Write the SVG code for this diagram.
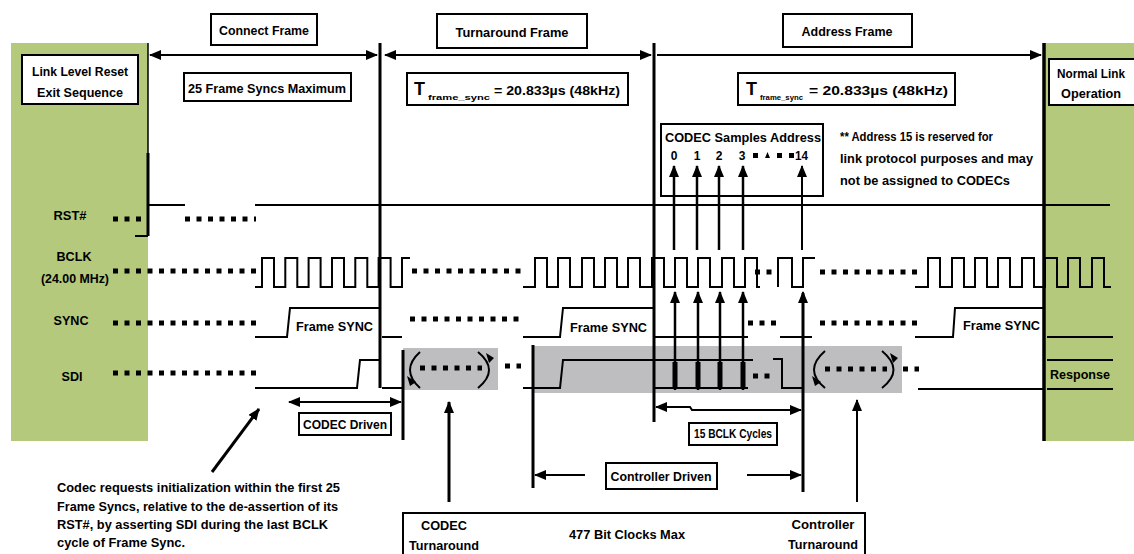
<svg xmlns="http://www.w3.org/2000/svg" width="1134" height="554" viewBox="0 0 1134 554">
<style>
.sig{fill:none;stroke:#000;stroke-width:2}
.thick{fill:none;stroke:#000;stroke-width:3}
.dots{fill:none;stroke:#000;stroke-width:5;stroke-dasharray:5 6.5}
.box{fill:#fff;stroke:#000;stroke-width:2}
.t{font-family:"Liberation Sans",Arial,sans-serif;font-weight:bold;font-size:12px;fill:#000}
.m{text-anchor:middle}
.green{fill:#b4c97b}
.grey{fill:#bebdc0}
.arr{fill:none;stroke:#000;stroke-width:2}
.arr3{fill:none;stroke:#000;stroke-width:2.5}
</style>
<defs>
<marker id="ah" viewBox="0 0 12 10" refX="11" refY="5" markerWidth="12" markerHeight="10" markerUnits="userSpaceOnUse" orient="auto-start-reverse">
<path d="M0,0 L12,5 L0,10 z" fill="#000"/>
</marker>
</defs>
<rect width="1134" height="554" fill="#fff"/>

<g id="link-level-reset">
<rect class="green" x="11" y="43" width="137" height="398"/>
<line x1="148" y1="43" x2="148" y2="236" stroke="#000" stroke-width="1.5"/>
<rect class="box" x="22" y="55" width="116" height="49"/>
<text class="t m" x="80" y="76" textLength="96" lengthAdjust="spacingAndGlyphs">Link Level Reset</text>
<text class="t m" x="80" y="97" textLength="86" lengthAdjust="spacingAndGlyphs">Exit Sequence</text>
<text class="t m" x="70" y="220" textLength="33" lengthAdjust="spacingAndGlyphs">RST#</text>
<text class="t m" x="74" y="261" textLength="35" lengthAdjust="spacingAndGlyphs">BCLK</text>
<text class="t m" x="75" y="283" textLength="68" lengthAdjust="spacingAndGlyphs">(24.00 MHz)</text>
<text class="t m" x="71" y="325" textLength="35" lengthAdjust="spacingAndGlyphs">SYNC</text>
<text class="t m" x="72" y="381" textLength="21" lengthAdjust="spacingAndGlyphs">SDI</text>
</g>

<g id="normal-link">
<rect class="green" x="1043" y="43" width="91" height="398"/>
<line x1="1044" y1="43" x2="1044" y2="441" stroke="#000" stroke-width="3.5"/>
<rect class="box" x="1049" y="59" width="90" height="46"/>
<text class="t m" x="1091" y="78" textLength="68" lengthAdjust="spacingAndGlyphs">Normal Link</text>
<text class="t m" x="1091" y="98" textLength="60" lengthAdjust="spacingAndGlyphs">Operation</text>
</g>

<g id="shading">
<rect class="grey" x="403" y="348" width="95" height="42"/>
<rect class="grey" x="533" y="346" width="369" height="47"/>
</g>

<g id="frame-labels">
<g id="connect-frame"><rect class="box" x="211" y="14" width="106" height="31"/>
<text class="t m" x="264" y="35" textLength="90" lengthAdjust="spacingAndGlyphs">Connect Frame</text></g>
<g id="syncs-max"><rect class="box" x="184" y="73" width="167" height="28"/>
<text class="t m" x="267" y="93" textLength="158" lengthAdjust="spacingAndGlyphs">25 Frame Syncs Maximum</text></g>
<g id="turnaround-frame"><rect class="box" x="437" y="14" width="150" height="34"/>
<text class="t m" x="512" y="37" textLength="113" lengthAdjust="spacingAndGlyphs">Turnaround Frame</text></g>
<g id="tsync-1"><rect class="box" x="407" y="73" width="221" height="32"/>
<text class="t" font-size="16"><tspan x="414" y="95" font-size="18">T</tspan><tspan x="428" y="100" font-size="8" textLength="62" lengthAdjust="spacingAndGlyphs">frame_sync</tspan><tspan x="494" y="95" textLength="126" lengthAdjust="spacingAndGlyphs">= 20.833µs (48kHz)</tspan></text></g>
<g id="address-frame"><rect class="box" x="783" y="14" width="129" height="33"/>
<text class="t m" x="847" y="36" textLength="91" lengthAdjust="spacingAndGlyphs">Address Frame</text></g>
<g id="tsync-2"><rect class="box" x="738" y="73" width="217" height="32"/>
<text class="t" font-size="16"><tspan x="746" y="95" font-size="18">T</tspan><tspan x="760" y="100" font-size="8" textLength="43" lengthAdjust="spacingAndGlyphs">frame_sync</tspan><tspan x="809" y="95" textLength="139" lengthAdjust="spacingAndGlyphs">= 20.833µs (48kHz)</tspan></text></g>
</g>

<g id="codec-samples-address">
<rect class="box" x="661" y="124" width="162" height="72"/>
<text class="t" x="665" y="142" textLength="156" lengthAdjust="spacingAndGlyphs">CODEC Samples Address</text>
<text class="t m" x="674" y="160">0</text>
<text class="t m" x="697" y="160">1</text>
<text class="t m" x="719" y="160">2</text>
<text class="t m" x="742" y="160">3</text>
<rect x="753" y="153" width="5" height="5"/>
<path d="M765,158 L767.5,152 L770,158 z"/>
<rect x="777" y="153" width="5" height="5"/>
<rect x="789" y="153" width="5" height="5"/>
<text class="t" x="795" y="160" textLength="13" lengthAdjust="spacingAndGlyphs">14</text>
</g>

<g id="note">
<text class="t" x="840" y="141" textLength="153" lengthAdjust="spacingAndGlyphs">** Address 15 is reserved for</text>
<text class="t" x="840" y="163" textLength="193" lengthAdjust="spacingAndGlyphs">link protocol purposes and may</text>
<text class="t" x="840" y="185" textLength="170" lengthAdjust="spacingAndGlyphs">not be assigned to CODECs</text>
</g>

<g id="signals">
<line class="thick" x1="380" y1="43" x2="380" y2="388"/>
<line class="thick" x1="654" y1="43" x2="654" y2="422"/>
<line x1="148" y1="153" x2="148" y2="236" stroke="#000" stroke-width="3"/>
<path class="sig" d="M148,205 H185 M135,236 H148 M255,205 H1110"/>
<path class="dots" d="M113,219 H148 M185,219 H256"/>
<path class="dots" d="M113,271 H256 M412,271 H525 M755,272 H776 M820,272 H918"/>
<path class="sig" d="M255,287 H262 V258 H274 V287 H285.3 V258 H297.3 V287 H308.6 V258 H320.6 V287 H332 V258 H344 V287 H355.3 V258 H367.3 V287 H378.6 V258 H390.6 V287 H402 V258 H410"/>
<path class="sig" d="M523,287 H535 V258 H547 V287 H558 V258 H570 V287 H582 V258 H594 V287 H605 V258 H617 V287 H628 V258 H640 V287 H652 V258 H664 V287 H675 V258 H687 V287 H698 V258 H710 V287 H722 V258 H734 V287 H745 V258 H757 V287 H760"/>
<path class="sig" d="M778,287 V258 H792 V287 H803 V258 H815"/>
<path class="sig" d="M915,287 H928 V258 H940 V287 H952 V258 H964 V287 H975 V258 H987 V287 H998 V258 H1010 V287 H1022 V258 H1034 V287 H1045 V258 H1057 V287 H1068 V258 H1080 V287 H1092 V258 H1104 V287 H1111"/>
<path class="dots" d="M113,323 H256 M410,319 H524 M748,323 H778 M820,323 H918"/>
<path class="sig" d="M255,337 H287 L290,308 H380 M382,337 H402 M523,337 H560 L563,308 H654 M654,337 H748 M780,337 H812 M915,337 H953 L955,308 H1043 M1047,337 H1113"/>
<text class="t" x="296" y="331" textLength="77" lengthAdjust="spacingAndGlyphs">Frame SYNC</text>
<text class="t" x="570" y="332" textLength="77" lengthAdjust="spacingAndGlyphs">Frame SYNC</text>
<text class="t" x="963" y="330" textLength="77" lengthAdjust="spacingAndGlyphs">Frame SYNC</text>
<path class="dots" d="M113,373 H256 M420,368 H482 M505,366 H521 M753,376 H770 M825,369 H887 M903,369 H919"/>
<path class="sig" d="M255,388 H357 L360,360 H380 M382,388 H402 M523,388 H560 L563,360 H753 M654,388 H748 M773,359 H782 V388 H803 M918,389 H1043 M1047,360 H1113 M1047,389 H1113"/>
<text class="t" x="1050" y="379" textLength="60" lengthAdjust="spacingAndGlyphs">Response</text>
<path d="M675,362 V388 M698,362 V388 M720,362 V388 M743,362 V388" stroke="#000" stroke-width="5"/>
<path class="sig" d="M420,352 Q400,370 420,388 M478,352 Q500,370 478,388 M825,351 Q803,370 825,388 M882,351 Q905,370 882,388"/>
<path d="M407,376 L416,382 L410,386 z M486,353 L494,358 L489,363 z M812,376 L821,382 L815,386 z M890,353 L898,358 L893,363 z"/>
<line class="thick" x1="403" y1="350" x2="403" y2="440"/>
<line class="thick" x1="533" y1="345" x2="533" y2="488"/>
<line class="thick" x1="803" y1="293" x2="803" y2="492"/>
</g>

<g id="connectors">
<line class="arr" x1="150" y1="55" x2="377" y2="55" marker-start="url(#ah)" marker-end="url(#ah)"/>
<line class="arr" x1="385" y1="55" x2="651" y2="55" marker-start="url(#ah)" marker-end="url(#ah)"/>
<line class="arr" x1="657" y1="55" x2="1041" y2="55" marker-end="url(#ah)"/>
<line class="arr3" x1="674" y1="250" x2="674" y2="166" marker-end="url(#ah)"/>
<line class="arr3" x1="697" y1="250" x2="697" y2="166" marker-end="url(#ah)"/>
<line class="arr3" x1="719" y1="250" x2="719" y2="166" marker-end="url(#ah)"/>
<line class="arr3" x1="743" y1="250" x2="743" y2="166" marker-end="url(#ah)"/>
<line class="arr" x1="802" y1="250" x2="802" y2="166" marker-end="url(#ah)"/>
<line class="arr3" x1="675" y1="390" x2="675" y2="292" marker-end="url(#ah)"/>
<line class="arr3" x1="698" y1="390" x2="698" y2="292" marker-end="url(#ah)"/>
<line class="arr3" x1="720" y1="390" x2="720" y2="292" marker-end="url(#ah)"/>
<line class="arr3" x1="743" y1="390" x2="743" y2="292" marker-end="url(#ah)"/>
<line class="arr" x1="803" y1="310" x2="803" y2="292" marker-end="url(#ah)"/>
<line class="arr" x1="289" y1="402" x2="401" y2="402" marker-start="url(#ah)" marker-end="url(#ah)"/>
<path class="arr" d="M656,407 H690 L692,410 H801" marker-start="url(#ah)" marker-end="url(#ah)"/>
<line class="arr" x1="535" y1="475" x2="585" y2="475" marker-start="url(#ah)"/>
<line class="arr" x1="747" y1="475" x2="801" y2="475" marker-end="url(#ah)"/>
<line class="thick" x1="449" y1="502" x2="449" y2="402" marker-end="url(#ah)"/>
<line class="arr" x1="857" y1="502" x2="857" y2="400" marker-end="url(#ah)"/>
<line class="thick" x1="212" y1="472" x2="259" y2="409" marker-end="url(#ah)"/>
<line class="arr" x1="481" y1="535" x2="558" y2="535" marker-start="url(#ah)"/>
<line class="arr" x1="698" y1="535" x2="780" y2="535" marker-end="url(#ah)"/>
</g>

<g id="codec-driven">
<rect class="box" x="299" y="413" width="92" height="22"/>
<text class="t m" x="345" y="429" textLength="84" lengthAdjust="spacingAndGlyphs">CODEC Driven</text>
</g>
<g id="bclk-cycles">
<rect class="box" x="689" y="423" width="88" height="22"/>
<text class="t m" x="733" y="438" font-size="10" textLength="78" lengthAdjust="spacingAndGlyphs">15 BCLK Cycles</text>
</g>
<g id="controller-driven">
<rect class="box" x="606" y="463" width="111" height="26"/>
<text class="t m" x="661" y="481" textLength="101" lengthAdjust="spacingAndGlyphs">Controller Driven</text>
</g>
<g id="turnaround-box">
<rect class="box" x="403" y="513" width="462" height="50"/>
<text class="t m" x="444" y="530" textLength="46" lengthAdjust="spacingAndGlyphs">CODEC</text>
<text class="t m" x="444" y="550" textLength="70" lengthAdjust="spacingAndGlyphs">Turnaround</text>
<text class="t m" x="627" y="539" textLength="116" lengthAdjust="spacingAndGlyphs">477 Bit Clocks Max</text>
<text class="t m" x="823" y="529" textLength="63" lengthAdjust="spacingAndGlyphs">Controller</text>
<text class="t m" x="823" y="549" textLength="70" lengthAdjust="spacingAndGlyphs">Turnaround</text>
</g>
<g id="annotation">
<text class="t" x="57" y="492" textLength="283" lengthAdjust="spacingAndGlyphs">Codec requests initialization within the first 25</text>
<text class="t" x="57" y="511" textLength="281" lengthAdjust="spacingAndGlyphs">Frame Syncs, relative to the de-assertion of its</text>
<text class="t" x="57" y="529" textLength="271" lengthAdjust="spacingAndGlyphs">RST#, by asserting SDI during the last BCLK</text>
<text class="t" x="57" y="547" textLength="128" lengthAdjust="spacingAndGlyphs">cycle of Frame Sync.</text>
</g>
</svg>
